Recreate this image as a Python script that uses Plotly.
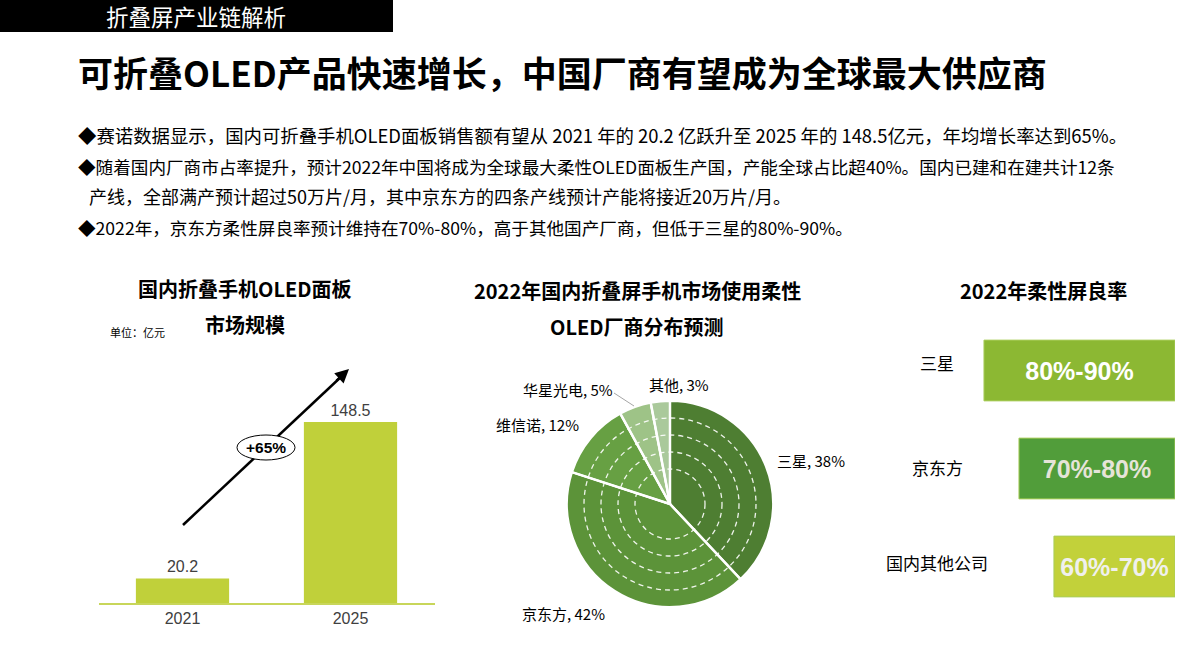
import math
import plotly.graph_objects as go

# ---------------- data ----------------
bar_years = ["2021", "2025"]
bar_values = [20.2, 148.5]
growth_label = "+65%"

pie_labels = ["三星", "京东方", "维信诺", "华星光电", "其他"]
pie_shares = [38, 42, 12, 5, 3]

yield_companies = ["三星", "京东方", "国内其他公司"]
yield_ranges = ["80%-90%", "70%-80%", "60%-70%"]
yield_upper = [90, 80, 70]

header_text = "折叠屏产业链解析"
title_text = "可折叠OLED产品快速增长，中国厂商有望成为全球最大供应商"
bullet_lines = [
    "◆赛诺数据显示，国内可折叠手机OLED面板销售额有望从 2021 年的 20.2 亿跃升至 2025 年的 148.5亿元，年均增长率达到65%。",
    "◆随着国内厂商市占率提升，预计2022年中国将成为全球最大柔性OLED面板生产国，产能全球占比超40%。国内已建和在建共计12条",
    "产线，全部满产预计超过50万片/月，其中京东方的四条产线预计产能将接近20万片/月。",
    "◆2022年，京东方柔性屏良率预计维持在70%-80%，高于其他国产厂商，但低于三星的80%-90%。",
]

# ---------------- helpers ----------------
W, H = 1200, 672
CJK = "Noto Sans CJK SC"
ARIAL = "Liberation Sans"


def px(x):
    return x / W


def py(y):
    return 1 - y / H


def text_at(txt, x, y, size, family=CJK, color="black", xanchor="center", weight="normal"):
    return dict(text=txt, xref="paper", yref="paper", x=px(x), y=py(y),
                xanchor=xanchor, yanchor="middle", showarrow=False,
                font=dict(family=family, size=size, color=color, weight=weight))


fig = go.Figure()

# ---------------- left: bar chart ----------------
BAR_COLOR = "#c0d03a"
fig.add_trace(go.Bar(
    x=bar_years, y=bar_values, xaxis="x", yaxis="y",
    marker=dict(color=BAR_COLOR, line=dict(width=0)),
    width=0.555,
    text=[f"{v}" for v in bar_values], textposition="outside",
    textfont=dict(family=ARIAL, size=16, color="#404040"),
    cliponaxis=False, hoverinfo="skip", showlegend=False,
))

# ---------------- middle: pie ----------------
PIE_CX, PIE_CY, PIE_R = 670, 504, 103
pie_colors = ["#4e7e32", "#5c9339", "#67a043", "#9ec387", "#aac99b"]
fig.add_trace(go.Pie(
    labels=pie_labels, values=pie_shares, sort=False, direction="clockwise",
    rotation=0, textinfo="none", hoverinfo="skip", showlegend=False,
    marker=dict(colors=pie_colors, line=dict(color="white", width=2)),
    domain=dict(x=[px(PIE_CX - PIE_R), px(PIE_CX + PIE_R)],
                y=[py(PIE_CY + PIE_R), py(PIE_CY - PIE_R)]),
))

# ---------------- right: yield boxes ----------------
YIELD_BASE = 35.4
yield_colors = ["#8cb833", "#519d3a", "#c2d13a"]
yield_text_colors = ["#ffffff", "#e6e4d8", "#f0f0ee"]
fig.add_trace(go.Bar(
    y=yield_companies, x=[v - YIELD_BASE for v in yield_upper], base=YIELD_BASE,
    orientation="h", xaxis="x2", yaxis="y2", width=0.62,
    marker=dict(color=yield_colors, line=dict(color="#a9cd5a", width=1)),
    text=yield_ranges, textposition="inside", insidetextanchor="middle",
    constraintext="none",
    insidetextfont=dict(family=ARIAL, size=25, color=yield_text_colors, weight="bold"),
    hoverinfo="skip", showlegend=False, cliponaxis=False,
))

shapes = []
annotations = []

# header bar
shapes.append(dict(type="rect", xref="paper", yref="paper",
                   x0=px(0), x1=px(393), y0=py(32), y1=py(0),
                   fillcolor="black", line=dict(width=0), layer="below"))
annotations.append(text_at(header_text, 196, 16, 22.5, color="white"))

# title
annotations.append(text_at(title_text, 76, 72, 35, xanchor="left", weight="bold"))

# bullets
bullet_pos = [(76, 135, 18.4), (76, 166, 17.6), (87, 196, 18), (76, 227, 17.6)]
for line, (bx, by, fs) in zip(bullet_lines, bullet_pos):
    annotations.append(text_at(line, bx, by, fs, xanchor="left"))

# chart titles
for txt, cx, cy in [("国内折叠手机OLED面板", 245, 288), ("市场规模", 245, 325),
                    ("2022年国内折叠屏手机市场使用柔性", 637, 290),
                    ("OLED厂商分布预测", 637, 326),
                    ("2022年柔性屏良率", 1043, 290)]:
    annotations.append(text_at(txt, cx, cy, 20, weight="bold"))
annotations.append(text_at("单位：亿元", 108, 332, 11, xanchor="left"))

# growth arrow (shaft below the ellipse, head as a short arrow)
shapes.append(dict(type="line", xref="paper", yref="paper",
                   x0=px(183), y0=py(525), x1=px(343), y1=py(375),
                   line=dict(color="black", width=2.5), layer="above"))
shapes.append(dict(type="circle", xref="paper", yref="paper",
                   x0=px(237), x1=px(295), y0=py(460), y1=py(435),
                   fillcolor="white", line=dict(color="black", width=1), layer="above"))
annotations.append(dict(text="", xref="paper", yref="paper", axref="pixel", ayref="pixel",
                        x=px(349), y=py(369), ax=-14, ay=13,
                        showarrow=True, arrowhead=2, arrowsize=1.1, arrowwidth=2.5,
                        arrowcolor="black", standoff=0, startstandoff=0))
annotations.append(text_at(growth_label, 266, 447.5, 15.5, family=ARIAL, weight="bold"))

# pie dashed rings
for r in [35, 52, 69, 86]:
    shapes.append(dict(type="circle", xref="paper", yref="paper",
                       x0=px(PIE_CX - r), x1=px(PIE_CX + r),
                       y0=py(PIE_CY + r), y1=py(PIE_CY - r),
                       line=dict(color="rgba(255,255,255,0.9)", width=1.3, dash="5px,4px"),
                       layer="above"))
# slice separators on top of rings
cum = 0
total = sum(pie_shares)
for s in pie_shares:
    ang = 2 * math.pi * cum / total
    ex = PIE_CX + (PIE_R + 1) * math.sin(ang)
    ey = PIE_CY - (PIE_R + 1) * math.cos(ang)
    shapes.append(dict(type="line", xref="paper", yref="paper",
                       x0=px(PIE_CX), y0=py(PIE_CY), x1=px(ex), y1=py(ey),
                       line=dict(color="white", width=2.5), layer="above"))
    cum += s

# pie labels
pie_label_pos = [(811, 460), (563, 613), (537, 424), (568, 389), (679, 384)]
for lab, val, (lx, ly) in zip(pie_labels, pie_shares, pie_label_pos):
    annotations.append(text_at(f"{lab}, {val}%", lx, ly, 15))
shapes.append(dict(type="line", xref="paper", yref="paper",
                   x0=px(614), y0=py(393), x1=px(634), y1=py(406),
                   line=dict(color="#a6a6a6", width=1)))

# yield company labels
for comp, ys in zip(yield_companies, [8, 1, 4]):
    annotations.append(dict(text=comp, xref="paper", yref="y2", x=px(937), y=comp,
                            xanchor="center", yanchor="middle",
                            yshift=ys, showarrow=False,
                            font=dict(family=CJK, size=17, color="black")))

fig.update_layout(
    width=W, height=H, margin=dict(l=0, r=0, t=0, b=0),
    paper_bgcolor="white", plot_bgcolor="white",
    bargap=0.4,
    xaxis=dict(domain=[px(98.5), px(434.5)], type="category",
               showline=True, linecolor="#c8d65a", linewidth=1.5,
               showgrid=False, zeroline=False, ticks="",
               tickfont=dict(family=ARIAL, size=16, color="#404040"), fixedrange=True),
    yaxis=dict(domain=[py(603), py(371.4)], range=[0, 190], visible=False,
               fixedrange=True),
    xaxis2=dict(domain=[px(900), px(1175)], range=[114, YIELD_BASE], visible=False,
                anchor="y2", fixedrange=True),
    yaxis2=dict(domain=[py(615.5), py(321.5)], type="category", autorange="reversed",
                visible=False, anchor="x2", fixedrange=True),
    shapes=shapes, annotations=annotations,
)

fig.write_html(
    "out.html",
    config={"displayModeBar": False},
    post_script="document.body.style.margin='0';document.body.style.overflow='hidden';",
)
